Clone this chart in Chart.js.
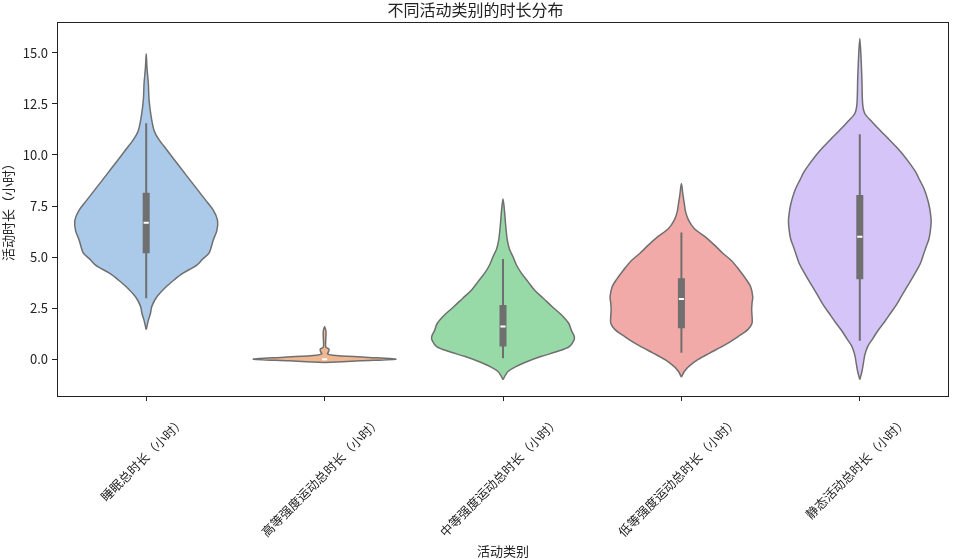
<!DOCTYPE html>
<html>
<head>
<meta charset="utf-8">
<script src="https://cdn.jsdelivr.net/npm/chart.js@4.4.1/dist/chart.umd.min.js"></script>
<style>
  html, body { margin: 0; padding: 0; background: #ffffff; }
  #wrap { width: 955px; height: 559px; position: relative; }
</style>
</head>
<body>
<div id="wrap"><canvas id="c"></canvas></div>
<script>
// ---------------- data ----------------
const chartTitle = '不同活动类别的时长分布';
const xAxisTitle = '活动类别';
const yAxisTitle = '活动时长（小时）';
const categories = ['睡眠总时长（小时）', '高等强度运动总时长（小时）', '中等强度运动总时长（小时）', '低等强度运动总时长（小时）', '静态活动总时长（小时）'];
const yTickValues = [0, 2.5, 5, 7.5, 10, 12.5, 15];

// violin profiles: y levels (hours) and relative density (1 = widest)
const sleepLevels = [1.45, 1.9, 2.25, 2.6, 3.06, 3.55, 3.88, 4.2, 4.61, 4.9, 5.19, 5.84, 6.3, 6.8, 7.3, 7.8, 8.61, 9.42, 10.24, 10.8, 11.2, 11.87, 12.69, 13.5, 14.3, 14.95];
const sleepDensity = [0, 0.03, 0.06, 0.08, 0.15, 0.28, 0.39, 0.51, 0.71, 0.79, 0.88, 0.94, 0.99, 1.0, 0.94, 0.83, 0.65, 0.47, 0.29, 0.17, 0.11, 0.07, 0.04, 0.03, 0.01, 0];

const highLevels = [-0.16, -0.08, 0, 0.1, 0.2, 0.26, 0.33, 0.42, 0.5, 0.58, 0.7, 1.0, 1.3, 1.45, 1.6];
const highDensity = [0, 0.5, 1.0, 0.56, 0.11, 0.04, 0.05, 0.06, 0.06, 0.02, 0.014, 0.017, 0.02, 0.014, 0];

const moderateLevels = [-1.0, -0.8, -0.6, -0.36, -0.1, 0.13, 0.4, 0.62, 0.9, 1.1, 1.4, 1.76, 2.2, 2.57, 3.0, 3.39, 3.8, 4.2, 4.6, 5.02, 5.4, 5.84, 6.65, 7.3, 7.85];
const moderateDensity = [0, 0.03, 0.07, 0.18, 0.35, 0.53, 0.78, 0.93, 0.99, 1.0, 0.96, 0.92, 0.81, 0.69, 0.56, 0.44, 0.35, 0.26, 0.19, 0.14, 0.09, 0.06, 0.035, 0.02, 0];

const lowLevels = [-0.88, -0.6, -0.36, 0.0, 0.29, 0.7, 1.1, 1.45, 1.76, 2.1, 2.41, 2.75, 3.06, 3.55, 3.95, 4.37, 4.8, 5.19, 5.6, 6.0, 6.4, 6.81, 7.2, 7.63, 8.1, 8.6];
const lowDensity = [0, 0.04, 0.1, 0.24, 0.39, 0.61, 0.79, 0.93, 0.99, 0.99, 0.985, 0.99, 1.0, 0.97, 0.9, 0.81, 0.71, 0.58, 0.46, 0.33, 0.18, 0.1, 0.06, 0.04, 0.02, 0];

const sedentaryLevels = [-1.0, -0.6, -0.2, 0.2, 0.62, 1.0, 1.43, 1.85, 2.25, 2.65, 3.06, 3.48, 3.88, 4.3, 4.7, 5.1, 5.51, 5.9, 6.33, 6.75, 7.14, 7.55, 7.95, 8.35, 8.77, 9.18, 9.59, 10.0, 10.4, 10.8, 11.22, 11.63, 12.03, 12.5, 13.66, 14.8, 15.7];
const sedentaryDensity = [0, 0.03, 0.05, 0.07, 0.11, 0.18, 0.26, 0.35, 0.43, 0.51, 0.58, 0.65, 0.72, 0.79, 0.85, 0.89, 0.93, 0.97, 0.99, 1.0, 0.99, 0.97, 0.94, 0.9, 0.84, 0.78, 0.7, 0.61, 0.51, 0.4, 0.28, 0.17, 0.07, 0.04, 0.03, 0.017, 0];

// inner box statistics per category
const whiskerLow  = [2.98, 0, 0.05, 0.32, 0.91];
const quartile1   = [5.19, 0, 0.62, 1.52, 3.91];
const medians     = [6.68, 0, 1.6, 2.95, 6.0];
const quartile3   = [8.15, 0, 2.66, 3.96, 8.04];
const whiskerHigh = [11.55, 0, 4.91, 6.2, 11.02];

// ---------------- style ----------------
const fillColors = ['#abc9e9', '#efb792', '#98daa7', '#f2aaa8', '#d4c4f7'];
const gray = '#6f6f6f';
const textColor = '#222222';
const fontFamily = "'Noto Sans CJK SC', 'Noto Sans', sans-serif";
const halfWidthMax = 0.4;

Chart.defaults.font.family = fontFamily;
Chart.defaults.color = textColor;

const profiles = [
  [sleepLevels, sleepDensity],
  [highLevels, highDensity],
  [moderateLevels, moderateDensity],
  [lowLevels, lowDensity],
  [sedentaryLevels, sedentaryDensity]
];

function violinPoints(i, levels, dens) {
  const pts = [];
  for (let k = 0; k < levels.length; k++) pts.push({x: i + dens[k] * halfWidthMax, y: levels[k]});
  for (let k = levels.length - 2; k >= 1; k--) pts.push({x: i - dens[k] * halfWidthMax, y: levels[k]});
  pts.push({x: i, y: levels[0]});
  return pts;
}

const datasets = [];
profiles.forEach(([lv, dn], i) => {
  datasets.push({
    data: violinPoints(i, lv, dn),
    borderColor: gray,
    backgroundColor: fillColors[i],
    borderWidth: 1.5,
    fill: 'shape',
    tension: 0.3,
    pointRadius: 0,
    order: 4
  });
  datasets.push({
    data: [{x: i, y: whiskerLow[i]}, {x: i, y: whiskerHigh[i]}],
    borderColor: gray, borderWidth: 2, pointRadius: 0, fill: false, order: 3
  });
  datasets.push({
    data: [{x: i, y: quartile1[i]}, {x: i, y: quartile3[i]}],
    borderColor: gray, borderWidth: 7, borderCapStyle: 'butt', pointRadius: 0, fill: false, order: 2
  });
});
datasets.push({
  data: categories.map((c, i) => ({x: i, y: medians[i]})),
  showLine: false,
  pointStyle: 'line',
  pointRadius: 2.6,
  pointBorderColor: '#ffffff',
  pointBorderWidth: 2,
  order: 1
});

const framePlugin = {
  id: 'frame',
  afterDraw(chart) {
    const {ctx, chartArea: a} = chart;
    ctx.save();
    ctx.strokeStyle = '#222222';
    ctx.lineWidth = 1;
    ctx.strokeRect(Math.round(a.left) + 0.5, Math.round(a.top) + 0.5, Math.round(a.right - a.left) - 1, Math.round(a.bottom - a.top));
    // rotated category labels, centred on each tick like matplotlib
    const xs = chart.scales.x;
    const size = 12.5;
    ctx.font = size + 'px ' + fontFamily;
    ctx.fillStyle = textColor;
    ctx.textAlign = 'center';
    ctx.textBaseline = 'middle';
    categories.forEach((label, i) => {
      const px = xs.getPixelForValue(i);
      const w = ctx.measureText(label).width;
      const half = (w + size) * Math.SQRT1_2 / 2;
      ctx.save();
      ctx.translate(px - 3.5, xs.top + 19 + half);
      ctx.rotate(-Math.PI / 4);
      ctx.fillText(label, 0, 0);
      ctx.restore();
    });
    ctx.restore();
  }
};

new Chart(document.getElementById('c'), {
  type: 'line',
  data: { datasets },
  plugins: [framePlugin],
  options: {
    responsive: true,
    maintainAspectRatio: false,
    animation: false,
    layout: { padding: { left: 0, right: 4, top: 0, bottom: 0 } },
    plugins: {
      legend: { display: false },
      tooltip: { enabled: false },
      title: {
        display: true,
        text: chartTitle,
        color: textColor,
        font: { size: 16, weight: 'normal', family: fontFamily },
        padding: { top: 0, bottom: 3 }
      }
    },
    scales: {
      x: {
        type: 'linear',
        min: -0.5,
        max: 4.5,
        afterBuildTicks: (s) => { s.ticks = categories.map((c, i) => ({value: i})); },
        afterFit: (s) => { s.height = 163; },
        border: { display: false },
        grid: { drawOnChartArea: false, drawTicks: true, tickLength: 5, color: '#222222' },
        ticks: { display: false },
        title: {
          display: true, text: xAxisTitle, color: textColor,
          font: { size: 13, family: fontFamily }, padding: { top: 0, bottom: 0 }
        }
      },
      y: {
        type: 'linear',
        min: -1.8,
        max: 16.5,
        afterBuildTicks: (s) => { s.ticks = yTickValues.map(v => ({value: v})); },
        afterFit: (s) => { s.width = 57; },
        border: { display: false },
        grid: { drawOnChartArea: false, drawTicks: true, tickLength: 5, color: '#222222' },
        ticks: {
          color: textColor, padding: 4,
          font: { size: 13, family: fontFamily },
          callback: (v) => Number(v).toFixed(1)
        },
        title: {
          display: true, text: yAxisTitle, color: textColor,
          font: { size: 13, family: fontFamily }, padding: { top: 0, bottom: 0 }
        }
      }
    }
  }
});
</script>
</body>
</html>
